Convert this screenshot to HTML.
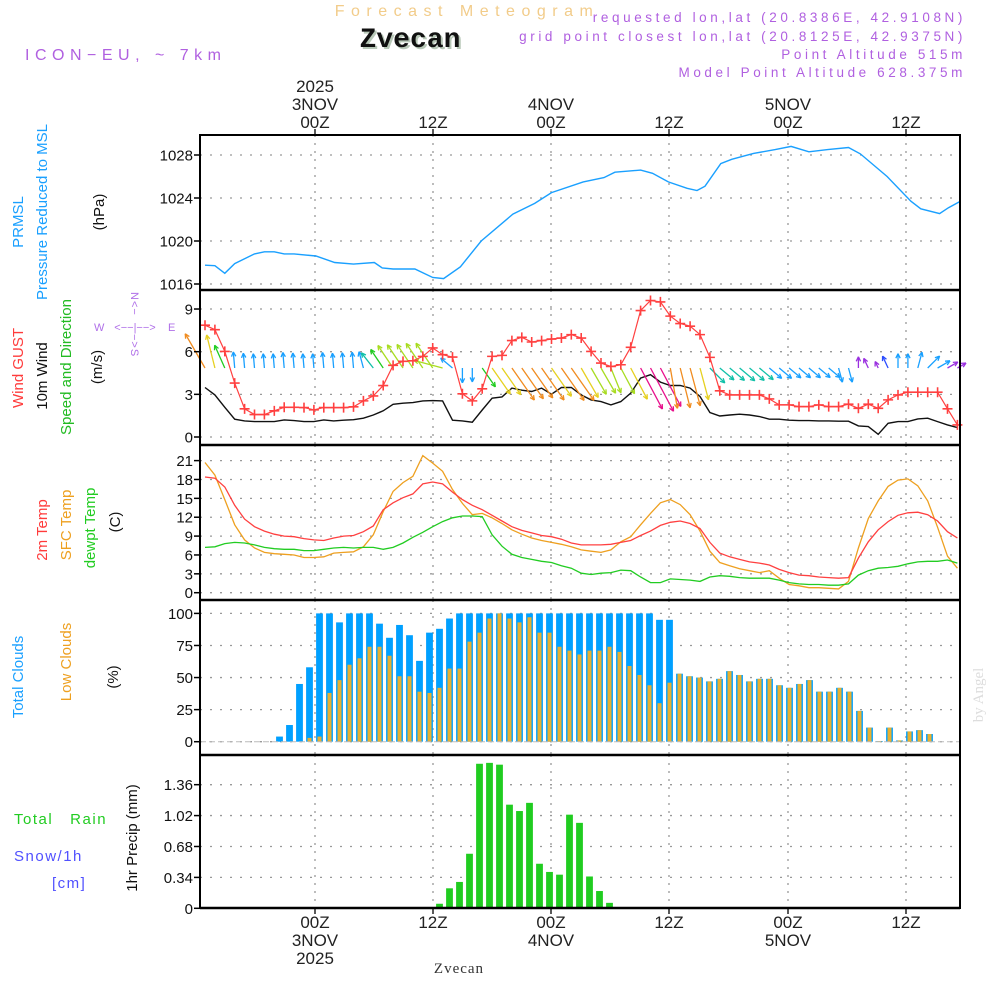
<!DOCTYPE html>
<html><head><meta charset="utf-8"><title>Forecast Meteogram Zvecan</title>
<style>
html,body{margin:0;padding:0;background:#fff;}
svg{display:block;font-family:"Liberation Sans",sans-serif;}
</style></head>
<body>
<svg id="chart" width="1000" height="1000" viewBox="0 0 1000 1000" xmlns="http://www.w3.org/2000/svg">
  <rect x="0" y="0" width="1000" height="1000" fill="#fff"/>
  <text x="467" y="16" text-anchor="middle" font-size="16" fill="#f2cc8a" letter-spacing="6.5">Forecast Meteogram</text>
  <text x="412" y="49" text-anchor="middle" font-size="28" font-weight="bold" font-family="Liberation Mono, monospace" fill="#b8c8b8">Zvecan</text>
  <text x="410" y="47" text-anchor="middle" font-size="28" font-weight="bold" font-family="Liberation Mono, monospace" fill="#111">Zvecan</text>
  <text x="25" y="60" font-size="16" fill="#b060e0" letter-spacing="5.5">ICON−EU, ~ 7km</text>
  <g font-size="13.5" fill="#b060e0" text-anchor="end" letter-spacing="3.6">
    <text x="966" y="22">requested lon,lat (20.8386E, 42.9108N)</text>
    <text x="966" y="41">grid point closest lon,lat (20.8125E, 42.9375N)</text>
    <text x="966" y="59">Point Altitude 515m</text>
    <text x="966" y="77">Model Point Altitude 628.375m</text>
  </g>
  <g id="toplabels" font-size="17" fill="#222" text-anchor="middle">
    <text x="315" y="92">2025</text><text x="315" y="110">3NOV</text><text x="315" y="128">00Z</text>
    <text x="433" y="128">12Z</text>
    <text x="551" y="110">4NOV</text><text x="551" y="128">00Z</text>
    <text x="669" y="128">12Z</text>
    <text x="788" y="110">5NOV</text><text x="788" y="128">00Z</text>
    <text x="906" y="128">12Z</text>
  </g>
  <g font-size="17" fill="#222" text-anchor="middle">
    <text x="315" y="928">00Z</text><text x="315" y="946">3NOV</text><text x="315" y="964">2025</text>
    <text x="433" y="928">12Z</text>
    <text x="551" y="928">00Z</text><text x="551" y="946">4NOV</text>
    <text x="669" y="928">12Z</text>
    <text x="788" y="928">00Z</text><text x="788" y="946">5NOV</text>
    <text x="906" y="928">12Z</text>
  </g>
  <text x="459" y="973" text-anchor="middle" font-size="15" font-family="Liberation Serif, serif" fill="#333" letter-spacing="1">Zvecan</text>
  <text transform="translate(983,695) rotate(-90)" text-anchor="middle" font-size="15" font-family="Liberation Serif, serif" fill="#ddd">by Angel</text>

  <g font-size="15" text-anchor="middle">
    <text transform="translate(23,222) rotate(-90)" fill="#1aa0ff">PRMSL</text>
    <text transform="translate(47,212) rotate(-90)" fill="#1aa0ff">Pressure Reduced to MSL</text>
    <text transform="translate(104,212) rotate(-90)" fill="#111">(hPa)</text>
  </g>
  <g font-size="15" text-anchor="middle">
    <text transform="translate(23,368) rotate(-90)" fill="#ff3b3b">Wind GUST</text>
    <text transform="translate(47,376) rotate(-90)" fill="#111">10m Wind</text>
    <text transform="translate(71,367) rotate(-90)" fill="#22bb22">Speed and Direction</text>
    <text transform="translate(102,367) rotate(-90)" fill="#111">(m/s)</text>
  </g>
  <g font-size="11" fill="#b070e8">
    <text transform="translate(131,292) rotate(90)" letter-spacing="1">N&lt;−</text>
    <text x="94" y="331">W</text>
    <text x="135" y="331" text-anchor="middle">&lt;−−|−−&gt;</text>
    <text x="168" y="331">E</text>
    <text transform="translate(131,334) rotate(90)" letter-spacing="1">−&gt;S</text>
  </g>
  <g font-size="15" text-anchor="middle">
    <text transform="translate(47,530) rotate(-90)" fill="#ff3b3b">2m Temp</text>
    <text transform="translate(71,525) rotate(-90)" fill="#eea020">SFC Temp</text>
    <text transform="translate(95,528) rotate(-90)" fill="#22cc22">dewpt Temp</text>
    <text transform="translate(120,522) rotate(-90)" fill="#111">(C)</text>
  </g>
  <g font-size="15" text-anchor="middle">
    <text transform="translate(23,677) rotate(-90)" fill="#1aa0ff">Total Clouds</text>
    <text transform="translate(71,662) rotate(-90)" fill="#eea020">Low Clouds</text>
    <text transform="translate(118,677) rotate(-90)" fill="#111">(%)</text>
  </g>
  <g font-size="15">
    <text x="14" y="824" fill="#22cc22" letter-spacing="1.5" xml:space="preserve">Total   Rain</text>
    <text x="14" y="861" fill="#5050ff" letter-spacing="1.5">Snow/1h</text>
    <text x="52" y="888" fill="#5050ff" letter-spacing="1.5">[cm]</text>
    <text transform="translate(137,838) rotate(-90)" text-anchor="middle" fill="#111">1hr Precip (mm)</text>
  </g>

  <g id="grid"></g>
  <g id="marks"></g>
  <g id="frame"></g>
</svg>
<script>
const pressHours = [0,1,2,3,5,6,7,8,9,11.2,13.1,15,17.1,17.9,19,21.2,23,24.1,25.8,27.9,31.1,33.3,35,38.2,40.3,41.4,44,45.2,46.8,48.7,49.7,50.5,52.1,53.2,55.4,57.6,59.2,61,62.9,65,66.2,68.9,71.3,72.3,74.2,75.1,76.3];
const pressure = [1017.75,1017.7,1017.0,1017.9,1018.8,1019.0,1019.0,1018.8,1018.8,1018.6,1018.0,1017.85,1018.0,1017.5,1017.4,1017.4,1016.6,1016.5,1017.6,1020.0,1022.5,1023.5,1024.5,1025.5,1025.9,1026.4,1026.6,1026.3,1025.5,1024.9,1024.7,1025.1,1027.2,1027.6,1028.15,1028.5,1028.8,1028.3,1028.5,1028.7,1028.1,1026.0,1023.7,1023.0,1022.55,1023.1,1023.7];
const gust = [7.86,7.55,6.02,3.79,1.98,1.58,1.58,1.84,2.09,2.09,2.07,1.91,2.07,2.07,2.07,2.12,2.54,2.89,3.62,5.04,5.32,5.36,5.67,6.26,5.79,5.62,3.04,2.54,3.39,5.67,5.74,6.78,7.01,6.68,6.78,6.89,6.96,7.2,6.96,6.02,5.2,4.96,5.08,6.31,8.89,9.6,9.5,8.5,7.98,7.79,7.2,5.6,3.25,2.96,2.96,2.96,2.96,2.68,2.26,2.26,2.14,2.14,2.26,2.14,2.14,2.31,2.02,2.31,2.02,2.61,2.96,3.15,3.15,3.15,3.15,1.98,0.85];
const windSpeed = [3.48,2.96,2.09,1.25,1.13,1.08,1.08,1.08,1.2,1.15,1.08,1.08,1.2,1.13,1.18,1.22,1.32,1.55,1.84,2.3,2.38,2.42,2.54,2.56,2.54,1.18,1.13,1.04,1.9,2.73,2.82,3.44,3.29,3.2,3.44,3.01,3.48,3.48,2.96,2.61,2.49,2.26,2.49,3.08,4.14,4.38,3.86,3.62,3.62,3.44,2.85,1.72,1.48,1.55,1.6,1.55,1.44,1.25,1.25,1.18,1.15,1.15,1.13,1.13,1.11,1.11,0.78,0.73,0.19,0.96,1.08,1.08,1.27,1.32,1.08,0.85,0.66];
const windDir = [330,346,336,355,355,355,355,355,355,355,355,355,355,355,355,355,345,322,326,326,326,326,326,326,285,310,180,180,145,145,145,145,145,145,145,145,145,145,150,150,150,158,152,152,152,152,152,170,166,165,165,135,130,130,130,130,130,130,130,130,130,130,130,130,165,165,0,335,335,335,0,0,15,45,60,60,60];
const temp2m = [18.4,18.2,16.8,13.9,11.7,10.5,9.8,9.3,9.0,8.9,8.6,8.4,8.3,8.7,9.0,9.1,9.7,10.6,13.2,14.3,15.1,15.7,17.3,17.6,17.3,16.0,14.8,13.9,13.2,12.3,11.4,10.5,9.9,9.5,9.1,8.9,8.5,7.9,7.6,7.6,7.6,7.7,8.0,8.3,9.1,9.8,10.7,11.2,11.4,11.0,10.2,8.0,6.3,5.7,5.3,4.9,4.7,4.4,3.7,3.2,2.8,2.7,2.5,2.4,2.3,2.4,5.5,8.1,10.0,11.3,12.3,12.7,12.8,12.4,11.4,9.7,8.7];
const tempSfc = [20.7,18.7,14.8,10.8,8.4,7.1,6.4,6.2,6.1,6.0,5.6,5.6,5.7,6.3,6.4,6.5,7.3,9.2,12.9,16.1,17.5,18.5,21.8,20.6,19.3,16.4,14.2,12.4,12.6,11.9,11.0,10.0,9.3,8.7,8.3,8.0,7.7,7.3,6.8,6.6,6.4,6.8,8.1,8.9,10.8,12.6,14.3,14.8,14.0,12.4,9.8,6.6,4.8,4.3,3.8,3.5,3.2,3.5,2.3,1.3,1.1,0.8,0.8,0.7,0.6,1.8,7.1,11.8,14.6,16.9,17.9,18.1,17.0,14.6,10.4,5.8,3.9];
const dewpt = [7.2,7.3,7.8,8.0,7.9,7.6,7.2,7.0,6.9,6.9,6.7,6.7,6.9,7.1,7.2,7.1,7.2,7.2,6.9,7.2,7.9,8.8,9.6,10.5,11.3,11.9,12.2,12.2,12.1,9.2,7.4,6.1,5.6,5.3,5.0,4.8,4.3,3.9,3.1,2.9,3.1,3.2,3.6,3.5,2.5,1.6,1.6,2.2,2.1,2.0,1.8,2.5,2.7,2.6,2.4,2.3,2.3,2.3,2.0,1.6,1.4,1.3,1.3,1.2,1.2,1.4,2.8,3.5,3.9,4.0,4.2,4.6,4.9,5.0,5.0,5.2,4.7];
const totalClouds = [0,0,0,0,0,0,0,4,13,45,58,100,100,93,100,100,100,92,81,91,83,63,85,88,96,100,100,100,100,100,100,100,100,100,100,100,100,100,100,100,100,100,100,100,100,95,95,53,51,50,47,49,55,52,47,49,49,44,42,45,48,39,39,42,39,24,11,0.5,11,1,8,9,6,0,0,0];
const lowClouds = [0,0,0,0,0,0,0,0,0,0,3,4,38,48,60,65,74,74,67,51,51,39,38,42,57,57,78,85,96,100,96,93,97,85,85,74,71,68,71,71,74,70,59,52,44,30,46,53,51,50,47,49,55,52,47,49,49,44,42,45,48,39,39,42,39,24,11,0.5,11,1,8,9,6,0,0,0];
const precipStart = 23;
const precip = [0.05,0.22,0.29,0.60,1.59,1.60,1.58,1.14,1.07,1.16,0.49,0.40,0.37,1.03,0.94,0.35,0.19,0.06];
const pressTicks = [1016,1020,1024,1028];
const windTicks = [0,3,6,9];
const tempTicks = [0,3,6,9,12,15,18,21];
const cloudTicks = [0,25,50,75,100];
const precipTicks = ["0","0.34","0.68","1.02","1.36"];
const gridX = [315,433,551,669,788,906];

const X0=200, X1=960;
const xl = k => 205 + 9.9*k;
const xb = k => 209.5 + 10*k;
const yP = v => 284 - (v-1016)*10.75;
const yW = v => 437 - v*14.22;
const yT = v => 592.7 - v*6.29;
const yC = v => 741.7 - v*1.283;
const yR = v => 908.3 - v*90.9;
const NS="http://www.w3.org/2000/svg";
const grid=document.getElementById('grid'), marks=document.getElementById('marks'), frame=document.getElementById('frame');
function mk(tag, attrs, parent){const e=document.createElementNS(NS,tag);for(const k in attrs)e.setAttribute(k,attrs[k]);parent.appendChild(e);return e;}

const panels=[[135,290],[290,445],[445,600],[600,755],[755,908]];
panels.forEach(([a,b])=>{
  gridX.forEach(x=>{
    const l=mk('line',{x1:x,x2:x,y1:a,y2:b,stroke:'#999','stroke-width':1.3,'stroke-dasharray':'2 6'},grid);
    
    
  });
});
function yaxis(ticks, yf, labels){
  ticks.forEach((t,i)=>{
    const y=yf(+t);
    const g=mk('line',{x1:X0,x2:X1,y1:y,y2:y,stroke:'#999','stroke-width':1.3,'stroke-dasharray':'2 8'},grid);
    
    
    mk('line',{x1:X0-6,x2:X0,y1:y,y2:y,stroke:'#000','stroke-width':1.5},frame);
    const tx=mk('text',{x:X0-7,y:y+5.5,'text-anchor':'end','font-size':15,fill:'#111'},frame);
    tx.textContent=labels?labels[i]:t;
    
    
  });
}
yaxis(pressTicks,yP);
yaxis(windTicks,yW);
yaxis(tempTicks,yT);
yaxis(cloudTicks,yC);
yaxis(precipTicks,yR,precipTicks);

let d=pressHours.map((h,i)=>(i?'L':'M')+xl(h).toFixed(1)+' '+yP(pressure[i]).toFixed(1)).join(' ');
const pl=mk('path',{d:d,fill:'none',stroke:'#1aa0ff','stroke-width':1.4},marks);



d=windSpeed.map((v,i)=>(i?'L':'M')+xl(i).toFixed(1)+' '+yW(v).toFixed(1)).join(' ');
const wl=mk('path',{d:d,fill:'none',stroke:'#111','stroke-width':1.4},marks);



function wcol(s){
  if(s<0.9) return '#9a30e0';
  if(s<1.0) return '#2a4cff';
  if(s<1.4) return '#18a0ff';
  if(s<1.75) return '#10c0a8';
  if(s<2.15) return '#20cc20';
  if(s<2.65) return '#a8dc20';
  if(s<3.15) return '#e6d020';
  if(s<3.8) return '#f08c20';
  return '#e8108c';
}
const arrowsG=mk('g',{},marks);


windDir.forEach((dir,i)=>{
  const s=windSpeed[i];
  const L=3+10.5*Math.max(s,0.4);
  const r=dir*Math.PI/180;
  const x0=xl(i), y0=368;
  const x1=x0+L*Math.sin(r), y1=y0-L*Math.cos(r);
  const c=wcol(s);
  const g=mk('g',{stroke:c,'stroke-width':1.3,fill:'none'},arrowsG);
  
  
  mk('line',{x1:x0,y1:y0,x2:x1,y2:y1},g);
  const ha=0.45, hl=5;
  const bx=-Math.sin(r), by=Math.cos(r);
  [ha,-ha].forEach(a=>{
    const ca=Math.cos(a), sa=Math.sin(a);
    mk('line',{x1:x1,y1:y1,x2:x1+hl*(bx*ca-by*sa),y2:y1+hl*(bx*sa+by*ca)},g);
  });
});

d=gust.map((v,i)=>(i?'L':'M')+xl(i).toFixed(1)+' '+yW(v).toFixed(1)).join(' ');
const gl=mk('path',{d:d,fill:'none',stroke:'#ff4040','stroke-width':1.2},marks);


gust.forEach((v,i)=>{
  const x=xl(i), y=yW(v);
  const p=mk('path',{d:`M${x-5} ${y}H${x+5}M${x} ${y-5}V${y+5}`,stroke:'#ff4040','stroke-width':1.6},marks);
  
  
});

[[tempSfc,'#eea020','sfc-temp-line'],[temp2m,'#ff4040','2m-temp-line'],[dewpt,'#22cc22','dewpoint-line']].forEach(([arr,c,n])=>{
  const dd=arr.map((v,i)=>(i?'L':'M')+xl(i).toFixed(1)+' '+yT(v).toFixed(1)).join(' ');
  const p=mk('path',{d:dd,fill:'none',stroke:c,'stroke-width':1.3},marks);
  
  
});

totalClouds.forEach((v,i)=>{
  const x=xb(i);
  if(v>0){
    const r=mk('rect',{x:x-3.4,y:yC(v),width:6.8,height:yC(0)-yC(v),fill:'#00a0ff'},marks);
    
    
  }
  const lv=lowClouds[i];
  if(lv>0){
    const r2=mk('rect',{x:x-2,y:yC(lv),width:4,height:yC(0)-yC(lv),fill:'#e8b030'},marks);
    
    
  }
});
mk('line',{x1:X0,x2:X1,y1:yC(0),y2:yC(0),stroke:'#bbb','stroke-width':1,'stroke-dasharray':'6 3'},marks);

precip.forEach((v,i)=>{
  const x=xb(precipStart+i);
  const r=mk('rect',{x:x-3.4,y:yR(v),width:6.8,height:yR(0)-yR(v),fill:'#20cc20'},marks);
  
  
});

mk('rect',{x:X0,y:135,width:X1-X0,height:908-135,fill:'none',stroke:'#000','stroke-width':2},frame);
[290,445,600,755].forEach(y=>{mk('line',{x1:X0,x2:X1,y1:y,y2:y,stroke:'#000','stroke-width':2.4},frame);});
mk('line',{x1:X0,x2:X1,y1:908,y2:908,stroke:'#000','stroke-width':2.6},frame);
gridX.forEach(x=>{
  mk('line',{x1:x,x2:x,y1:129,y2:135,stroke:'#000','stroke-width':1.3},frame);
  mk('line',{x1:x,x2:x,y1:908,y2:914,stroke:'#000','stroke-width':1.3},frame);
});
</script>
</body></html>
